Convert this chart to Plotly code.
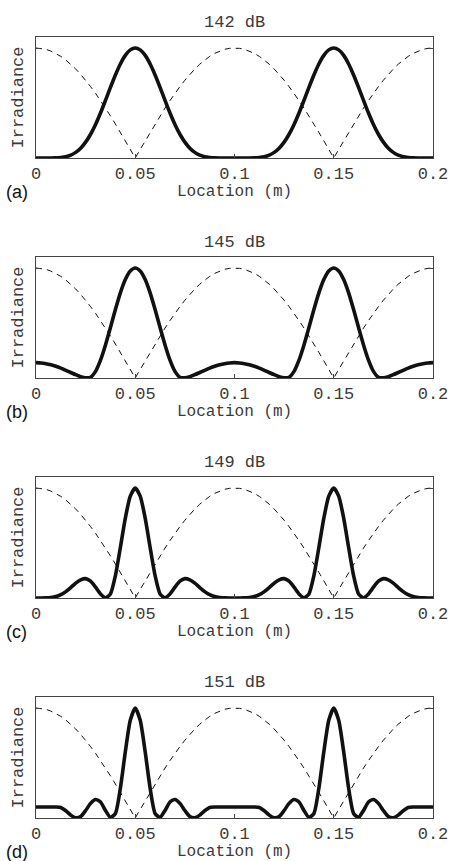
import plotly.graph_objects as go

# Location grid (m), step 0.0025 from 0 to 0.2
location = [round(i * 0.0025, 4) for i in range(81)]

tick_vals = [0, 0.05, 0.1, 0.15, 0.2]
tick_text = ["0", "0.05", "0.1", "0.15", "0.2"]
titles = ["142 dB", "145 dB", "149 dB", "151 dB"]
panel_labels = ["(a)", "(b)", "(c)", "(d)"]

# Dashed reference curve (normalised irradiance)
reference_dashed = [
    1, .997, .988, .972, .951, .924, .891, .853, .809, .760, .707, .649, .588, .522, .454, .383, .309, .233, .156, .078, 0,
    .078, .156, .233, .309, .383, .454, .522, .588, .649, .707, .760, .809, .853, .891, .924, .951, .972, .988, .997, 1,
    .997, .988, .972, .951, .924, .891, .853, .809, .760, .707, .649, .588, .522, .454, .383, .309, .233, .156, .078, 0,
    .078, .156, .233, .309, .383, .454, .522, .588, .649, .707, .760, .809, .853, .891, .924, .951, .972, .988, .997, 1,
]

irradiance_142 = [
    0, 0, 0, 0, .001, .005, .012, .026, .051, .089, .144, .216, .305, .409, .524, .642, .755, .855, .933, .983, 1,
    .983, .933, .855, .755, .642, .524, .409, .305, .216, .144, .089, .051, .026, .012, .005, .001, 0, 0, 0, 0,
    0, 0, 0, .001, .005, .012, .026, .051, .089, .144, .216, .305, .409, .524, .642, .755, .855, .933, .983, 1,
    .983, .933, .855, .755, .642, .524, .409, .305, .216, .144, .089, .051, .026, .012, .005, .001, 0, 0, 0, 0,
]

irradiance_145 = [
    .14, .137, .13, .12, .107, .09, .07, .05, .03, .012, .002, .007, .06, .162, .3, .459, .622, .774, .895, .973, 1,
    .973, .895, .774, .622, .459, .3, .162, .06, .007, .002, .012, .03, .05, .07, .09, .107, .12, .13, .137, .14,
    .137, .13, .12, .107, .09, .07, .05, .03, .012, .002, .007, .06, .162, .3, .459, .622, .774, .895, .973, 1,
    .973, .895, .774, .622, .459, .3, .162, .06, .007, .002, .012, .03, .05, .07, .09, .107, .12, .13, .137, .14,
]

irradiance_149 = [
    0, 0, .001, .005, .013, .03, .058, .095, .135, .165, .176, .153, .098, .037, .002, .037, .203, .459, .726, .926, 1,
    .926, .726, .459, .203, .037, .002, .037, .098, .153, .176, .165, .135, .095, .058, .03, .013, .005, .001, 0, 0,
    0, .001, .005, .013, .03, .058, .095, .135, .165, .176, .153, .098, .037, .002, .037, .203, .459, .726, .926, 1,
    .926, .726, .459, .203, .037, .002, .037, .098, .153, .176, .165, .135, .095, .058, .03, .013, .005, .001, 0, 0,
]

irradiance_151 = [
    .1, .1, .1, .1, .1, .096, .066, .026, .002, .013, .068, .133, .168, .145, .069, .006, .041, .27, .602, .888, 1,
    .888, .602, .27, .041, .006, .069, .145, .168, .133, .068, .013, .002, .026, .066, .096, .1, .1, .1, .1, .1,
    .1, .1, .1, .1, .096, .066, .026, .002, .013, .068, .133, .168, .145, .069, .006, .041, .27, .602, .888, 1,
    .888, .602, .27, .041, .006, .069, .145, .168, .133, .068, .013, .002, .026, .066, .096, .1, .1, .1, .1, .1,
]

series = [irradiance_142, irradiance_145, irradiance_149, irradiance_151]

W, H = 460, 861
ML, MR, MT, MB = 36, 18, 37, 43
plot_h = H - MT - MB
panel_px, step_px = 121, 220

mono = "Liberation Mono, Courier New, monospace"
sans = "Liberation Sans, Arial, sans-serif"
frame = "#444444"
text_col = "#3a3a3a"

fig = go.Figure()
layout = dict(
    width=W, height=H,
    margin=dict(l=ML, r=MR, t=MT, b=MB),
    paper_bgcolor="white", plot_bgcolor="white",
    showlegend=False,
    font=dict(family=mono, size=17, color=text_col),
)
annotations = []

for i in range(4):
    sfx = "" if i == 0 else str(i + 1)
    top_px = i * step_px
    y1 = 1 - top_px / plot_h
    y0 = max(0.0, 1 - (top_px + panel_px) / plot_h)
    xa, ya = "x" + sfx, "y" + sfx
    fig.add_trace(go.Scatter(
        x=location, y=reference_dashed, mode="lines", xaxis=xa, yaxis=ya,
        line=dict(color="#111", width=1, dash="6px,5px"), hoverinfo="skip"))
    fig.add_trace(go.Scatter(
        x=location, y=series[i], mode="lines", xaxis=xa, yaxis=ya,
        line=dict(color="#111", width=3.6, shape="spline", smoothing=0.6), hoverinfo="skip"))
    layout["xaxis" + sfx] = dict(
        domain=[0, 1], anchor=ya, range=[0, 0.2],
        tickvals=tick_vals, ticktext=tick_text,
        ticks="inside", ticklen=4, tickcolor=frame,
        showline=True, linecolor=frame, linewidth=1, mirror=True,
        showgrid=False, zeroline=False,
        tickfont=dict(family=mono, size=17, color=text_col),
    )
    layout["yaxis" + sfx] = dict(
        domain=[y0, y1], anchor=xa, range=[0, 1.1],
        tickvals=[1], showticklabels=False,
        ticks="inside", ticklen=4, tickcolor=frame,
        showline=True, linecolor=frame, linewidth=1, mirror="ticks",
        showgrid=False, zeroline=False,
    )
    xd, yd = xa + " domain", ya + " domain"
    annotations.append(dict(text=titles[i], xref=xd, yref=yd, x=0.5, y=1,
                            yshift=15, xanchor="center", yanchor="middle",
                            showarrow=False, font=dict(family=mono, size=17, color=text_col)))
    annotations.append(dict(text="Location (m)", xref=xd, yref=yd, x=0.5, y=0,
                            yshift=-34, xanchor="center", yanchor="middle",
                            showarrow=False, font=dict(family=mono, size=16, color=text_col)))
    annotations.append(dict(text="Irradiance", xref=xd, yref=yd, x=0, y=0.5,
                            xshift=-18, xanchor="center", yanchor="middle", textangle=-90,
                            showarrow=False, font=dict(family=mono, size=17, color=text_col)))
    annotations.append(dict(text=panel_labels[i], xref=xd, yref=yd, x=0, y=0,
                            xshift=-32, yshift=-34, xanchor="left", yanchor="middle",
                            showarrow=False, font=dict(family=sans, size=18, color="#111")))

layout["annotations"] = annotations
fig.update_layout(**layout)
fig.write_html("out.html", config={"displayModeBar": False},
               post_script="document.body.style.margin='0';document.body.style.overflow='hidden';")
